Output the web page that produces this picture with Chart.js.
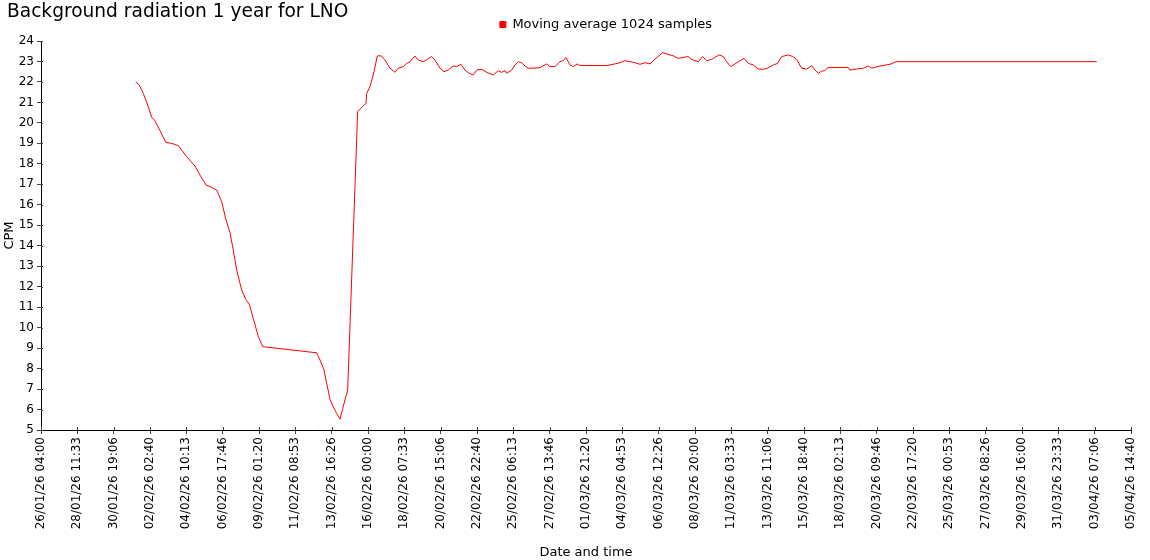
<!DOCTYPE html>
<html>
<head>
<meta charset="utf-8">
<title>Background radiation 1 year for LNO</title>
<script src="https://cdn.jsdelivr.net/npm/chart.js@4.4.1/dist/chart.umd.min.js"></script>
<style>
    body { margin: 0; background: #fff; }
    #wrap { position: relative; width: 1150px; height: 560px; }
    #title {
        position: absolute; left: 7px; top: 0;
        font-family: "DejaVu Sans", Verdana, sans-serif;
        font-size: 18.6px; color: #000; white-space: nowrap;
    }
</style>
</head>
<body>
<div id="wrap">
    <div id="title">Background radiation 1 year for LNO</div>
    <canvas id="radiationChart" width="1150" height="560"></canvas>
</div>
<script>
// Hours since 26/01/26 04:00 (start of the x axis)
const hoursSinceStart = [
    144.8, 150.3, 156.4, 164.1, 169.3, 174.3, 182.0, 190.7, 199.8, 209.9,
    222.8, 235.5, 243.1, 252.3, 261.0, 268.6, 276.3, 282.9, 289.0, 294.0,
    299.2, 306.9, 313.0, 318.5, 324.6, 332.3, 339.0, 421.5, 426.6, 432.7,
    436.8, 441.9, 446.9, 452.1, 457.2, 461.3, 468.9, 484.2, 496.9, 498.0,
    503.0, 509.2, 514.2, 519.9, 526.0, 533.6, 541.3, 546.3, 554.0, 559.2,
    564.2, 571.8, 576.9, 584.5, 590.7, 597.4, 602.4, 610.1, 616.2, 622.8,
    630.4, 635.6, 642.2, 648.3, 653.3, 661.0, 666.2, 673.8, 681.5, 691.6,
    699.2, 704.4, 709.5, 712.1, 719.7, 724.7, 729.8, 735.0, 740.0, 745.1,
    752.7, 763.0, 773.2, 778.3, 785.9, 793.6, 798.6, 802.7, 808.8, 813.9,
    820.0, 824.1, 865.0, 877.6, 885.3, 892.9, 900.6, 908.2, 915.9, 923.5,
    931.2, 938.8, 950.6, 961.7, 966.8, 974.4, 982.1, 989.7, 994.9, 1005.0,
    1011.7, 1017.9, 1025.5, 1036.7, 1043.2, 1048.4, 1054.6, 1061.1, 1068.8, 1074.9,
    1081.5, 1089.1, 1096.8, 1104.4, 1110.5, 1119.7, 1126.4, 1132.5, 1142.6, 1149.4,
    1155.5, 1163.1, 1170.8, 1178.4, 1183.5, 1188.5, 1193.7, 1198.7, 1202.9, 1234.4,
    1237.0, 1247.2, 1257.3, 1265.0, 1270.1, 1282.8, 1298.1, 1307.3, 1614.2
];

// Moving average (CPM)
const cpmValues = [
    22.01, 21.85, 21.44, 20.79, 20.27, 20.10, 19.62, 19.05, 19.00, 18.89,
    18.35, 17.89, 17.45, 16.97, 16.85, 16.72, 16.15, 15.26, 14.64, 13.79,
    12.81, 11.84, 11.38, 11.14, 10.45, 9.56, 9.07, 8.77, 8.42, 7.93,
    7.28, 6.50, 6.13, 5.81, 5.53, 6.05, 6.95, 20.55, 20.96, 21.44,
    21.77, 22.50, 23.27, 23.28, 23.07, 22.67, 22.47, 22.67, 22.75, 22.91,
    22.99, 23.27, 23.07, 22.99, 23.10, 23.24, 23.07, 22.67, 22.50, 22.58,
    22.78, 22.75, 22.86, 22.58, 22.45, 22.34, 22.58, 22.62, 22.47, 22.34,
    22.55, 22.47, 22.55, 22.42, 22.58, 22.83, 22.99, 22.94, 22.78, 22.67,
    22.67, 22.70, 22.88, 22.75, 22.75, 22.99, 23.04, 23.20, 22.83, 22.75,
    22.88, 22.80, 22.80, 22.88, 22.94, 23.04, 22.99, 22.94, 22.86, 22.94,
    22.88, 23.12, 23.43, 23.32, 23.28, 23.15, 23.20, 23.24, 23.10, 22.99,
    23.24, 23.04, 23.10, 23.32, 23.24, 22.99, 22.75, 22.88, 23.04, 23.15,
    22.91, 22.83, 22.63, 22.62, 22.67, 22.83, 22.91, 23.24, 23.32, 23.24,
    23.10, 22.67, 22.63, 22.80, 22.58, 22.42, 22.53, 22.55, 22.70, 22.71,
    22.58, 22.63, 22.67, 22.78, 22.67, 22.78, 22.86, 22.99, 22.99
];

const tickLabels = [
    '26/01/26 04:00', '28/01/26 11:33', '30/01/26 19:06', '02/02/26 02:40',
    '04/02/26 10:13', '06/02/26 17:46', '09/02/26 01:20', '11/02/26 08:53',
    '13/02/26 16:26', '16/02/26 00:00', '18/02/26 07:33', '20/02/26 15:06',
    '22/02/26 22:40', '25/02/26 06:13', '27/02/26 13:46', '01/03/26 21:20',
    '04/03/26 04:53', '06/03/26 12:26', '08/03/26 20:00', '11/03/26 03:33',
    '13/03/26 11:06', '15/03/26 18:40', '18/03/26 02:13', '20/03/26 09:46',
    '22/03/26 17:20', '25/03/26 00:53', '27/03/26 08:26', '29/03/26 16:00',
    '31/03/26 23:33', '03/04/26 07:06', '05/04/26 14:40'
];

const axisEndHours = 1666.667;   // 05/04/26 14:40
const tickStep = axisEndHours / (tickLabels.length - 1);

document.addEventListener('DOMContentLoaded', function() {
    Chart.defaults.font.family = '"DejaVu Sans", Verdana, sans-serif';
    Chart.defaults.color = '#000';

    // mover la leyenda a la derecha como en la imagen
    const legendShift = {
        id: 'legendShift',
        afterLayout(chart) {
            if (chart.legend) {
                chart.legend.left += 31;
                chart.legend.right += 31;
            }
        }
    };

    // marcas de eje que cruzan la línea del eje
    const crossTicks = {
        id: 'crossTicks',
        afterDraw(chart) {
            const {ctx, chartArea, scales} = chart;
            ctx.save();
            ctx.strokeStyle = '#444';
            ctx.lineWidth = 1;
            ctx.beginPath();
            scales.x.ticks.forEach(t => {
                const px = Math.round(scales.x.getPixelForValue(t.value)) + 0.5;
                ctx.moveTo(px, chartArea.bottom);
                ctx.lineTo(px, chartArea.bottom - 3);
            });
            scales.y.ticks.forEach(t => {
                const py = Math.round(scales.y.getPixelForValue(t.value)) + 0.5;
                ctx.moveTo(chartArea.left, py);
                ctx.lineTo(chartArea.left + 2, py);
            });
            ctx.stroke();
            ctx.restore();
        }
    };

    const ctx = document.getElementById('radiationChart').getContext('2d');
    new Chart(ctx, {
        type: 'line',
        data: {
            datasets: [{
                label: 'Moving average 1024 samples',
                data: hoursSinceStart.map((h, i) => ({ x: h, y: cpmValues[i] })),
                borderColor: '#ff0000',
                backgroundColor: '#ff0000',
                borderWidth: 1,
                pointRadius: 0,
                tension: 0,
                fill: false
            }]
        },
        options: {
            responsive: false,
            animation: false,
            layout: { padding: 0 },
            plugins: {
                legend: {
                    position: 'top',
                    labels: {
                        boxWidth: 6,
                        boxHeight: 6,
                        padding: 10,
                        font: { size: 13 },
                        color: '#000'
                    }
                },
                tooltip: { enabled: false }
            },
            scales: {
                x: {
                    type: 'linear',
                    min: 0,
                    max: axisEndHours,
                    afterBuildTicks: function(scale) {
                        scale.ticks = tickLabels.map((t, i) => ({ value: i * tickStep }));
                    },
                    afterFit: function(scale) {
                        scale.height = 130;
                        scale.paddingRight = 19;
                    },
                    ticks: {
                        autoSkip: false,
                        maxRotation: 90,
                        minRotation: 90,
                        padding: 3,
                        font: { size: 12 },
                        callback: function(value, index) {
                            return tickLabels[index];
                        }
                    },
                    grid: {
                        drawOnChartArea: false,
                        tickLength: 4,
                        color: '#444'
                    },
                    border: { color: '#000', width: 1 },
                    title: {
                        display: true,
                        text: 'Date and time',
                        font: { size: 13 },
                        padding: { top: 0, bottom: 0 }
                    }
                },
                y: {
                    min: 5,
                    max: 24,
                    afterFit: function(scale) {
                        scale.width = 41;
                        scale.paddingTop = 41;
                    },
                    ticks: {
                        stepSize: 1,
                        autoSkip: false,
                        padding: 3,
                        font: { size: 12 }
                    },
                    grid: {
                        drawOnChartArea: false,
                        tickLength: 4,
                        color: '#444'
                    },
                    border: { color: '#000', width: 1 },
                    title: {
                        display: true,
                        text: 'CPM',
                        font: { size: 13 },
                        padding: { top: 2, bottom: 0 }
                    }
                }
            }
        },
        plugins: [legendShift, crossTicks]
    });
});
</script>
</body>
</html>
